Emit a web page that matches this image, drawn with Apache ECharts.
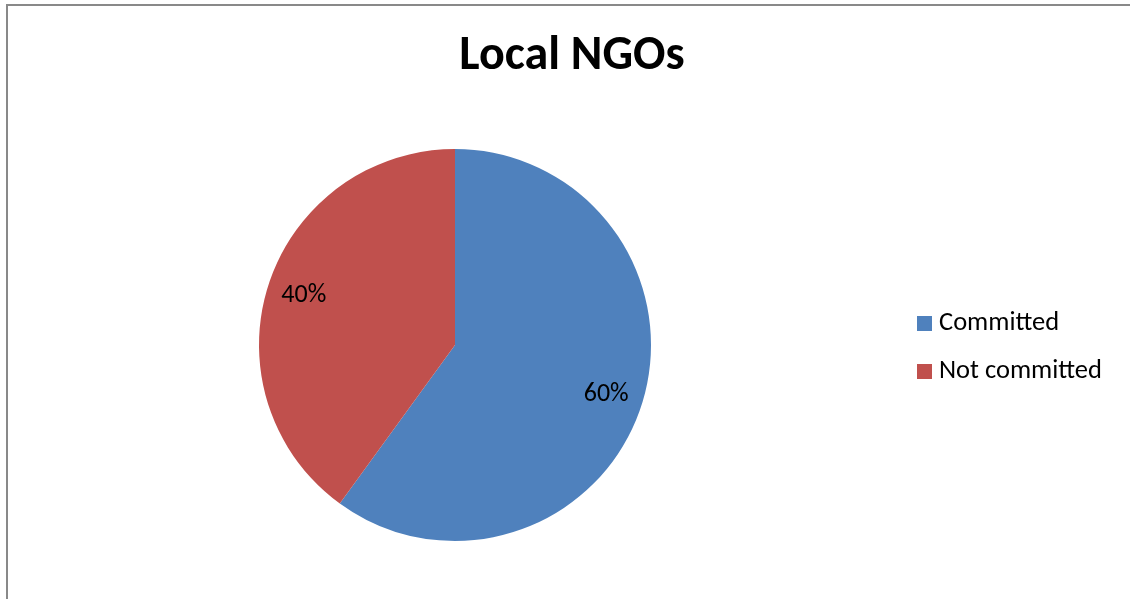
<!DOCTYPE html>
<html>
<head>
<meta charset="utf-8">
<script src="https://cdn.jsdelivr.net/npm/echarts@6/dist/echarts.min.js"></script>
<style>
html,body{margin:0;padding:0;background:#fff;overflow:hidden;}
#frame{position:absolute;left:6px;top:4px;width:1200px;height:700px;border-left:2px solid #898989;border-top:2px solid #898989;box-sizing:border-box;}
#chart{position:absolute;left:0;top:0;width:1130px;height:599px;}
</style>
</head>
<body>
<div id="frame"></div>
<div id="chart"></div>
<script>
const titleText = 'Local NGOs';
const categories = ['Committed', 'Not committed'];
const values = [60, 40];
const colors = ['#4F81BD', '#C0504D'];
const font = 'Carlito, Lato, "Open Sans", sans-serif';

const data = categories.map((c, i) => ({ name: c, value: values[i], itemStyle: { color: colors[i] } }));
const chart = echarts.init(document.getElementById('chart'), null, { renderer: 'canvas' });
chart.setOption({
  animation: false,
  backgroundColor: 'transparent',
  title: {
    text: titleText, left: 567, top: 28, textAlign: 'center',
    textStyle: { fontFamily: font, fontSize: 48, fontWeight: 'bold', color: '#000' }
  },
  legend: {
    orient: 'vertical', left: 912, top: 305, itemWidth: 15, itemHeight: 15, itemGap: 21,
    icon: 'rect',
    textStyle: { fontFamily: font, fontSize: 26.5, color: '#000', padding: [0, 0, 0, 2] },
    data: categories
  },
  series: [
    {
      type: 'pie', center: [455, 345], radius: 196, startAngle: 90, clockwise: true,
      label: { show: false }, labelLine: { show: false }, emphasis: { disabled: true },
      itemStyle: { borderWidth: 0 },
      data: data
    },
    {
      type: 'pie', center: [455, 345], radius: [116, 196], startAngle: 90, clockwise: true,
      silent: true, legendHoverLink: false, emphasis: { disabled: true },
      itemStyle: { color: 'rgba(0,0,0,0)' },
      label: { show: true, position: 'inside', formatter: '{d}%', fontFamily: font, fontSize: 26, color: '#000' },
      labelLine: { show: false },
      data: categories.map((c, i) => ({ name: c + ' ', value: values[i] }))
    }
  ]
});
</script>
</body>
</html>
